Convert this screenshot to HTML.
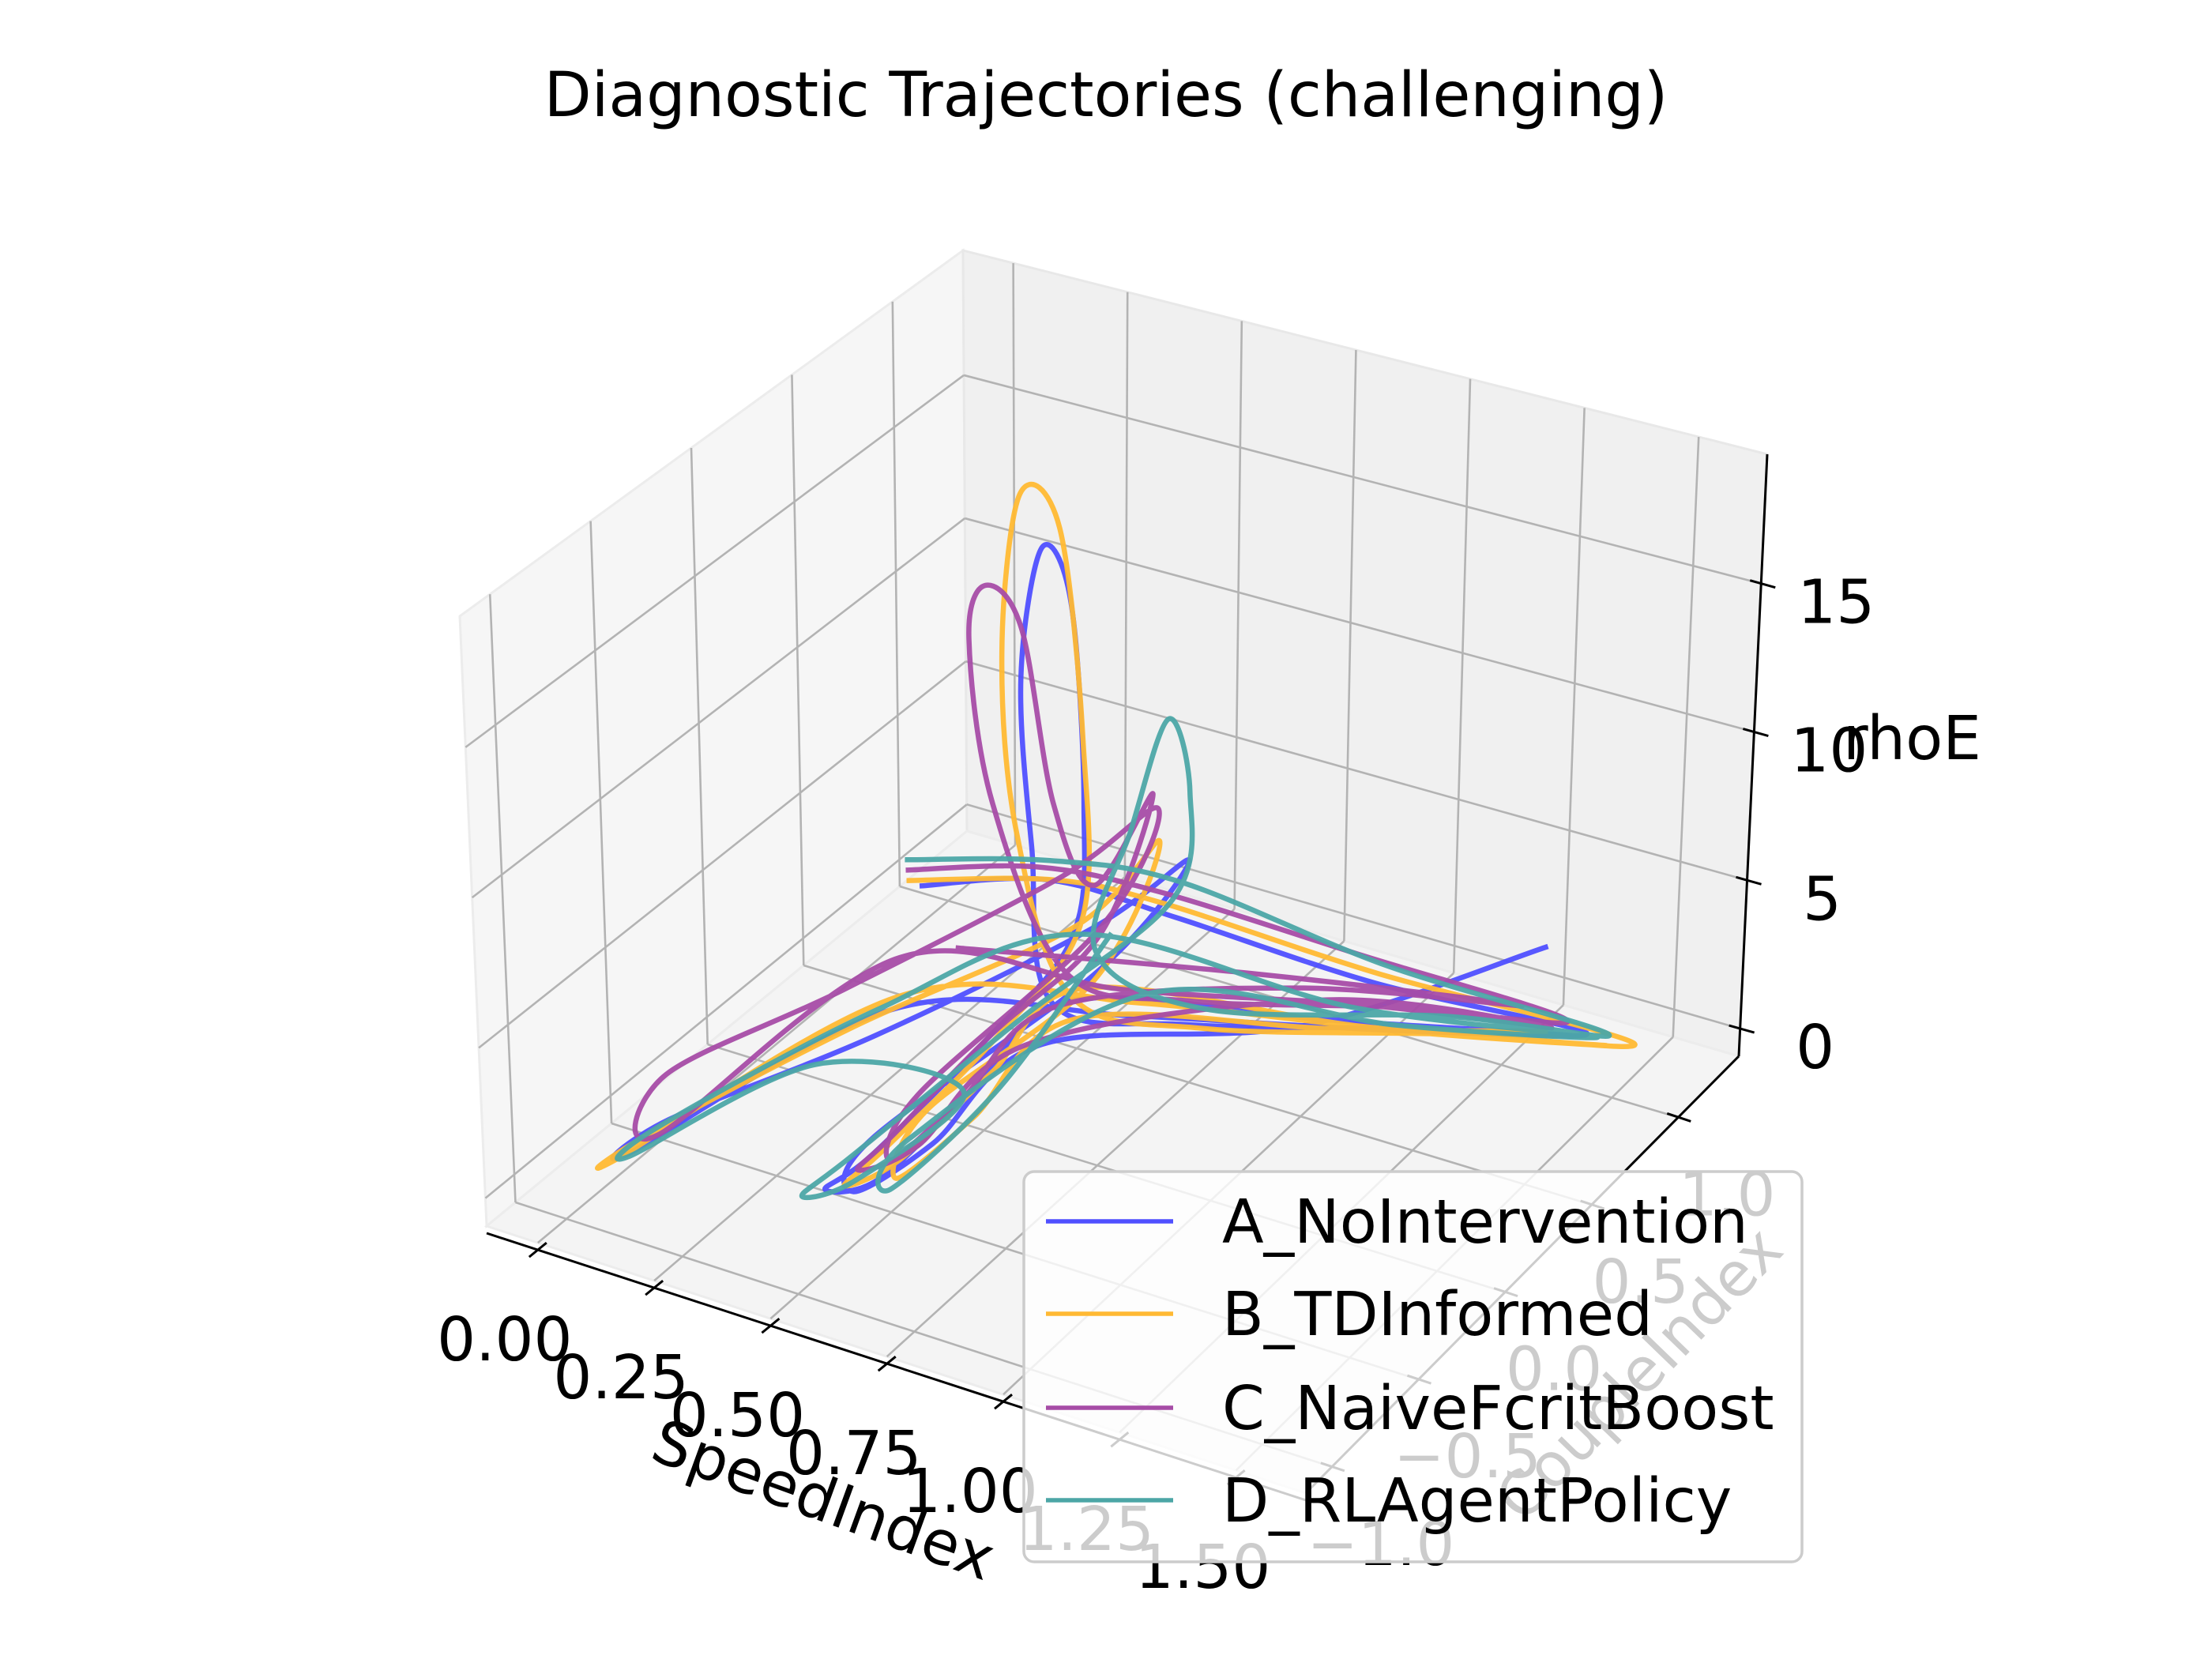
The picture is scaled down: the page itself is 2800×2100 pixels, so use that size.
<!DOCTYPE html>
<html><head><meta charset="utf-8"><style>
html,body{margin:0;padding:0;background:#fff}
svg{display:block}
text{font-family:"DejaVu Sans","Liberation Sans",sans-serif}
</style></head><body>
<svg id="chart" xmlns="http://www.w3.org/2000/svg" width="2800" height="2100" viewBox="0 0 2800 2100">
<rect width="2800" height="2100" fill="#fff"/>
<text x="1400" y="147" font-size="78" text-anchor="middle" fill="#000">Diagnostic Trajectories (challenging)</text>
<g id="panes"></g><g id="grid"></g><g id="axes"></g><g id="series"></g><g id="legendg"></g>
</svg>
<script>
const xTicks=[0,0.25,0.5,0.75,1.0,1.25,1.5];
const xTickLabels=["0.00","0.25","0.50","0.75","1.00","1.25","1.50"];
const yTicks=[-1,-0.5,0,0.5,1];
const yTickLabels=["\u22121.0","\u22120.5","0.0","0.5","1.0"];
const zTicks=[0,5,10,15];
const zTickLabels=["0","5","10","15"];
const seriesNames=["A_NoIntervention","B_TDInformed","C_NaiveFcritBoost","D_RLAgentPolicy"];
const seriesColors=["#4f4fff","#ffb933","#a64ca6","#4ca6a6"];
const aSpeed=[0.28,0.50,0.72,1.05,1.42,1.15,0.78,0.55,0.46,0.43,0.46,0.51,0.55,0.56,0.50,0.45,0.41,0.50,0.56,0.62,1.0,1.40,1.08,0.70,0.35,0.08,0.12,0.38,0.62,0.74,0.62,0.42,0.46,0.56,0.62,0.95,1.30];
const aCouple=[0.20,0.35,0.50,0.78,1.05,0.80,0.42,0.25,0.36,0.38,0.42,0.45,0.42,0.33,0.0,-0.48,-0.63,-0.56,-0.2,0.18,0.66,1.02,0.72,0.30,-0.1,-0.86,-0.74,-0.28,0.30,0.52,0.32,-0.40,-0.60,-0.42,0.02,0.62,1.12];
const aRho=[5.2,5.6,4.5,2.2,0.6,1.0,1.6,2.2,6.5,12,16.3,14.5,8,4,2,0.6,0.1,0.5,1.8,3,1.4,0.6,1.1,2.2,3,0.9,1.6,3.2,4.8,6.4,3.2,0.6,0.1,1.2,2.4,1.2,2.6];
const bSpeed=[0.26,0.52,0.70,1.05,1.50,1.20,0.80,0.58,0.44,0.41,0.43,0.49,0.54,0.57,0.52,0.47,0.44,0.52,0.58,0.64,1.05,1.46,1.12,0.72,0.36,0.06,0.10,0.34,0.60,0.70,0.62,0.50,0.52,0.60,0.66,1.0,1.36];
const bCouple=[0.18,0.33,0.48,0.80,1.12,0.84,0.45,0.28,0.33,0.33,0.38,0.44,0.44,0.36,0.05,-0.45,-0.60,-0.50,-0.15,0.20,0.70,1.06,0.76,0.32,-0.08,-0.88,-0.78,-0.30,0.26,0.46,0.30,-0.30,-0.52,-0.30,0.10,0.68,0.98];
const bRho=[5.4,5.8,5,2.4,0.2,0.8,1.4,2.4,7,13,18.2,17,10,4.5,2.2,0.8,0.2,0.9,2.2,3.4,1.2,0.3,1.0,2.6,3.4,0.7,1.3,3.4,5,7.2,3,1.4,0.4,1.6,3,1.0,0.8];
const cSpeed=[0.25,0.48,0.68,1.02,1.38,1.10,0.78,0.56,0.40,0.36,0.38,0.44,0.50,0.58,0.66,0.60,0.52,0.47,0.45,0.54,0.62,1.0,1.36,1.05,0.68,0.34,0.12,0.10,0.30,0.55,0.68,0.62,0.48,0.50,0.58,0.64,0.95,1.30,0.90,0.40];
const cCouple=[0.20,0.34,0.50,0.78,1.04,0.78,0.42,0.30,0.30,0.28,0.32,0.36,0.38,0.40,0.52,0.38,0.0,-0.42,-0.55,-0.45,-0.05,0.64,1.0,0.72,0.30,-0.05,-0.80,-0.70,-0.25,0.30,0.50,0.34,-0.30,-0.50,-0.30,0.05,0.60,0.98,0.50,0.10];
const cRho=[5.6,6,5.2,3.0,0.9,1.6,2.4,3,8,13.5,15.2,13.8,8,5.5,8.3,4,2.4,1,0.5,1.2,2.8,2.2,0.8,1.8,3,4.4,1.4,2.8,4.2,6.2,8,4.6,1.8,0.8,2.2,3.6,2.6,1.4,3.4,4.2];
const dSpeed=[0.24,0.50,0.72,1.06,1.45,1.18,0.80,0.60,0.62,0.66,0.70,0.68,0.55,0.42,0.38,0.46,0.56,0.30,0.08,0.12,0.36,0.60,1.02,1.44,1.10,0.72,0.48,0.52,0.62,0.66];
const dCouple=[0.22,0.36,0.52,0.82,1.10,0.86,0.46,0.36,0.50,0.60,0.62,0.58,0.10,-0.50,-0.68,-0.58,-0.25,-0.40,-0.86,-0.76,-0.20,0.28,0.72,1.06,0.78,0.34,-0.35,-0.55,-0.20,0.30];
const dRho=[5.8,6.2,5.6,2.6,0.4,1.2,2,3.6,7,10.4,8,4.5,2.6,0.6,0.0,0.4,2.0,2.5,0.8,1.6,3.6,4.6,1.6,0.5,1.0,2.8,0.6,0.2,2.2,4.8];

const XMIN=-0.11,XMAX=1.65,YMIN=-1.15,YMAX=1.35,ZMIN=-0.93,ZMAX=19.36;
const C000=[616,1552],C100=[1653,1890],C010=[1224,1052],C110=[2201,1337];
const C001=[582,780],C101=[1655,1090],C011=[1219,317],C111=[2237,575];
function proj(x,y,z){
  const u=(x-XMIN)/(XMAX-XMIN),v=(y-YMIN)/(YMAX-YMIN),w=(z-ZMIN)/(ZMAX-ZMIN);
  const r=[0,0];
  for(let i=0;i<2;i++){
    const b=C000[i]*(1-u)*(1-v)+C100[i]*u*(1-v)+C010[i]*(1-u)*v+C110[i]*u*v;
    const t=C001[i]*(1-u)*(1-v)+C101[i]*u*(1-v)+C011[i]*(1-u)*v+C111[i]*u*v;
    r[i]=b*(1-w)+t*w;
  }
  return r;
}
const NS="http://www.w3.org/2000/svg";
function mk(tag,attrs,parent){const e=document.createElementNS(NS,tag);for(const k in attrs)e.setAttribute(k,attrs[k]);parent.appendChild(e);return e;}
function poly(pts){return pts.map(p=>p[0].toFixed(1)+","+p[1].toFixed(1)).join(" ");}
const panes=document.getElementById('panes'),grid=document.getElementById('grid'),axes=document.getElementById('axes'),sg=document.getElementById('series'),lg=document.getElementById('legendg');

let p=mk('polygon',{points:poly([proj(XMIN,YMIN,ZMIN),proj(XMIN,YMAX,ZMIN),proj(XMIN,YMAX,ZMAX),proj(XMIN,YMIN,ZMAX)]),fill:'#f6f6f6',stroke:'#ececec','stroke-width':3},panes);


p=mk('polygon',{points:poly([proj(XMIN,YMAX,ZMIN),proj(XMAX,YMAX,ZMIN),proj(XMAX,YMAX,ZMAX),proj(XMIN,YMAX,ZMAX)]),fill:'#f0f0f0',stroke:'#e8e8e8','stroke-width':3},panes);


p=mk('polygon',{points:poly([proj(XMIN,YMIN,ZMIN),proj(XMAX,YMIN,ZMIN),proj(XMAX,YMAX,ZMIN),proj(XMIN,YMAX,ZMIN)]),fill:'#f4f4f4',stroke:'#ececec','stroke-width':3},panes);



function gl(a,b,name){const e=mk('line',{x1:a[0],y1:a[1],x2:b[0],y2:b[1],stroke:'#b3b3b3','stroke-width':2.6},grid);

}
yTicks.forEach(y=>{gl(proj(XMIN,y,ZMIN),proj(XMIN,y,ZMAX),'gridline-y');gl(proj(XMIN,y,ZMIN),proj(XMAX,y,ZMIN),'gridline-y');});
xTicks.forEach(x=>{gl(proj(x,YMAX,ZMIN),proj(x,YMAX,ZMAX),'gridline-x');gl(proj(x,YMIN,ZMIN),proj(x,YMAX,ZMIN),'gridline-x');});
zTicks.forEach(z=>{gl(proj(XMIN,YMIN,z),proj(XMIN,YMAX,z),'gridline-z');gl(proj(XMIN,YMAX,z),proj(XMAX,YMAX,z),'gridline-z');});

function al(a,b,name){const e=mk('line',{x1:a[0],y1:a[1],x2:b[0],y2:b[1],stroke:'#000','stroke-width':3},axes);

}
const off=9;
let a0=proj(XMIN,YMIN,ZMIN),a1=proj(XMAX,YMIN,ZMIN);
al([a0[0],a0[1]+off],[a1[0],a1[1]+off],'x-axis-line');
al(proj(XMAX,YMIN,ZMIN),proj(XMAX,YMAX,ZMIN),'y-axis-line');
al(proj(XMAX,YMAX,ZMIN),proj(XMAX,YMAX,ZMAX),'z-axis-line');
function txt(x,y,s,name,extra){const e=mk('text',Object.assign({x:x,y:y,'font-size':77,'text-anchor':'middle',fill:'#000'},extra||{}),axes);e.textContent=s;

return e;}
xTicks.forEach((x,i)=>{const q=proj(x,YMIN,ZMIN);q[1]+=off;
  al([q[0]-11,q[1]+9],[q[0]+11,q[1]-9],'x-tick');
  txt(q[0]-42,q[1]+140,xTickLabels[i],'x-tick-label');});
yTicks.forEach((y,i)=>{const q=proj(XMAX,y,ZMIN);
  al([q[0]-14,q[1]-5],[q[0]+16,q[1]+5],'y-tick');
  txt(q[0]+62,q[1]+124,yTickLabels[i],'y-tick-label');});
zTicks.forEach((z,i)=>{const q=proj(XMAX,YMAX,z);
  al([q[0]-14,q[1]-4],[q[0]+18,q[1]+5],'z-tick');
  txt(q[0]+95,q[1]+50,zTickLabels[i],'z-tick-label');});
txt(1042,1925,'SpeedIndex','x-axis-title',{transform:'rotate(20 1042 1900)'});
txt(2076,1765,'CoupleIndex','y-axis-title',{transform:'rotate(-46 2076 1740)'});
txt(2333,961,'rhoE','z-axis-title',{'text-anchor':'start'});

function smooth(pts){
  let d='M'+pts[0][0].toFixed(1)+','+pts[0][1].toFixed(1);
  for(let i=0;i<pts.length-1;i++){
    const p0=pts[Math.max(0,i-1)],p1=pts[i],p2=pts[i+1],p3=pts[Math.min(pts.length-1,i+2)];
    const c1=[p1[0]+(p2[0]-p0[0])/6,p1[1]+(p2[1]-p0[1])/6],c2=[p2[0]-(p3[0]-p1[0])/6,p2[1]-(p3[1]-p1[1])/6];
    d+='C'+c1[0].toFixed(1)+','+c1[1].toFixed(1)+' '+c2[0].toFixed(1)+','+c2[1].toFixed(1)+' '+p2[0].toFixed(1)+','+p2[1].toFixed(1);
  }
  return d;
}
const allS=[[aSpeed,aCouple,aRho],[bSpeed,bCouple,bRho],[cSpeed,cCouple,cRho],[dSpeed,dCouple,dRho]];
const snames=['series-a-nointervention','series-b-tdinformed','series-c-naivefcritboost','series-d-rlagentpolicy'];
allS.forEach((s,k)=>{
  const pts=s[0].map((x,i)=>proj(x,s[1][i],s[2][i]));
  const e=mk('path',{d:smooth(pts),fill:'none',stroke:seriesColors[k],'stroke-width':6.5,'stroke-linejoin':'round','stroke-opacity':0.95},sg);
  
  
});

const box=mk('rect',{x:1296,y:1483,width:985,height:494,rx:13,fill:'#fff','fill-opacity':0.8,stroke:'#cccccc','stroke-width':3.5},lg);


const legY=[1546,1663,1782,1899];
seriesNames.forEach((n,k)=>{
  const l=mk('line',{x1:1324,y1:legY[k],x2:1485,y2:legY[k],stroke:seriesColors[k],'stroke-width':5.5},lg);
  
  
  const t=mk('text',{x:1547,y:legY[k]+27,'font-size':77,fill:'#000'},lg);t.textContent=n;
  
  
});
</script>
</body></html>
